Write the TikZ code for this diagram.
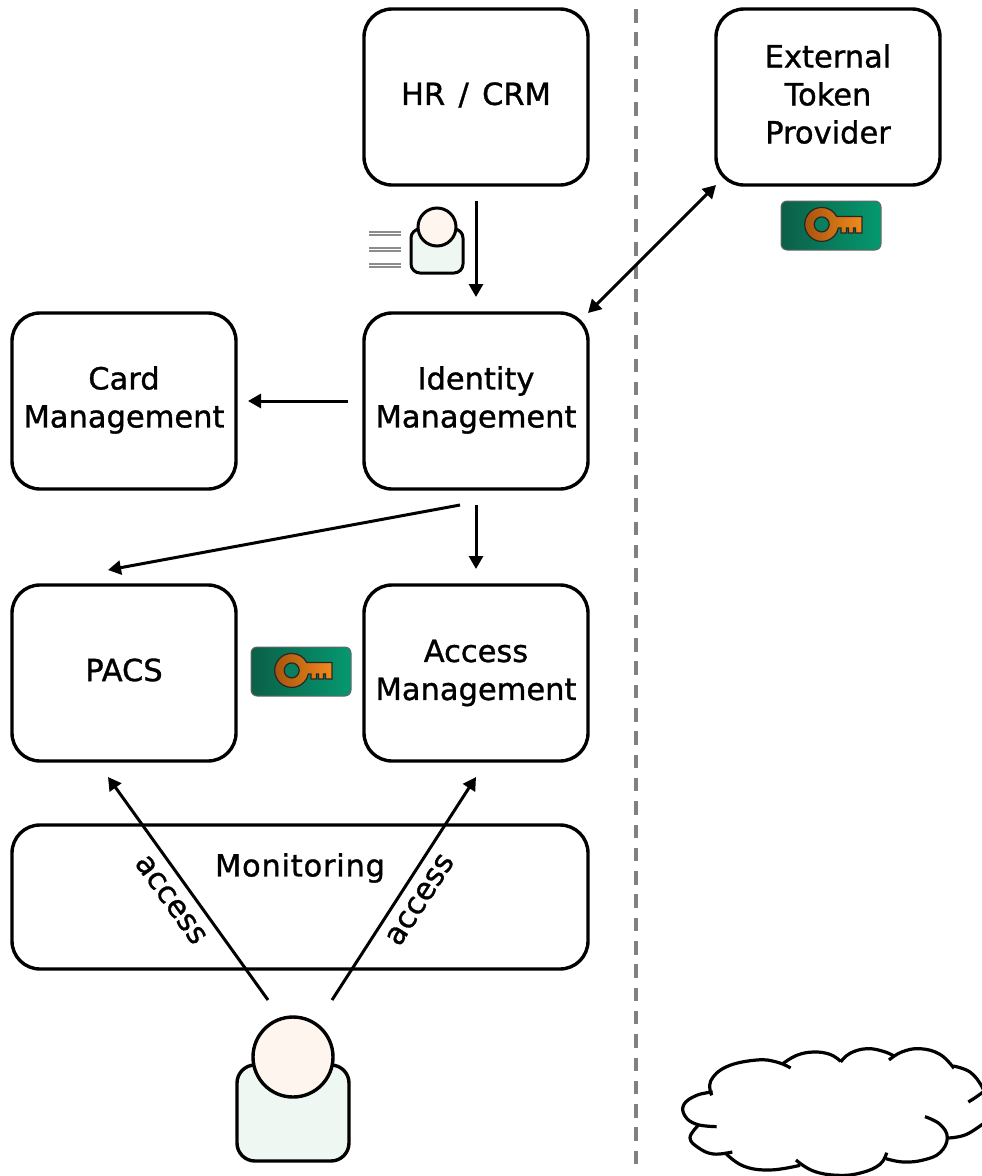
\documentclass[tikz,border=0pt]{standalone}
\usepackage{fontspec}
\setmainfont{DejaVu Sans}[FakeBold=1.1]
\usetikzlibrary{arrows.meta,positioning,calc}
\definecolor{bodyfill}{HTML}{EEF7F2}
\definecolor{headfill}{HTML}{FFF5EF}
\definecolor{badgeL}{HTML}{0B5F48}
\definecolor{badgeR}{HTML}{05996F}
\definecolor{keyL}{HTML}{A8540E}
\definecolor{keyR}{HTML}{F08A1E}
\tikzset{
  x=1pt,y=-1pt,
  sys/.style={draw=black,line width=3.4pt,rounded corners=28pt,fill=white,minimum width=224pt,minimum height=176pt,inner sep=0pt,outer sep=0pt},
  lbl/.style={inner sep=0pt,outer sep=0pt,align=center,font=\fontsize{30.5}{38}\selectfont},
  link/.style={line width=3pt,-{Triangle[length=13pt,width=14pt]}},
  linkboth/.style={line width=3pt,{Triangle[length=13pt,width=14pt]}-{Triangle[length=13pt,width=14pt]}},
}
\newcommand{\keybadge}[2]{%
  \begin{scope}[shift={(#1,#2)}]
    \shade[left color=badgeL,right color=badgeR,draw=black!60,line width=1pt,rounded corners=6pt] (0,0) rectangle (100,49);
    \path[left color=keyL,right color=keyR,draw=black!85,line width=1.2pt]
      (55.75,15.5) .. controls (52.81,9.9) and (47.03,6.4) .. (40.7,6.4)
      .. controls (31.31,6.4) and (23.7,13.99) .. (23.7,23.4)
      .. controls (23.7,32.79) and (31.31,40.4) .. (40.7,40.4)
      .. controls (48.73,40.4) and (55.57,34.9) .. (57.3,27.05)
      -- (60,27) -- (60,32) -- (65.5,32) -- (65.5,27) -- (67.5,27) -- (67.5,32) -- (72.5,32) -- (72.5,27) -- (74.5,27) -- (74.5,32) -- (81,32) -- (81,15.5) -- cycle;
    \fill[badgeL!45!badgeR,draw=black!85,line width=1.2pt] (40.7,23.4) circle[radius=7.5];
  \end{scope}}
\begin{document}
\begin{tikzpicture}
\useasboundingbox (0,0) rectangle (982,1176);
% separator
\draw[draw=black!50,line width=3.5pt,dash pattern=on 13.5pt off 9.8pt] (636,9) -- (636,1168);
% boxes
\node[sys,label={[lbl,yshift=2pt]center:{HR\hspace{.12em} / \hspace{.12em}CRM}}] (hr) at (476,97) {};
\node[sys,label={[lbl,yshift=3pt]center:{External\\Token\\Provider}}] (ext) at (828,97) {};
\node[sys,label={[lbl,yshift=1pt]center:{Identity\\Management}}] (idm) at (476,401) {};
\node[sys,label={[lbl,yshift=1pt]center:{Card\\Management}}] (card) at (124,401) {};
\node[sys,label={[lbl,yshift=3pt]center:{PACS}}] (pacs) at (124,673) {};
\node[sys,label={[lbl,yshift=0pt]center:{Access\\Management}}] (acc) at (476,673) {};
\node[sys,minimum width=576pt,minimum height=144pt] (mon) at (300,897) {};
\node[lbl] (monlabel) at (300,868) {\addfontfeature{LetterSpace=2.5}Monitoring};
% connectors
\draw[link,shorten <=16pt,shorten >=16pt] (hr) -- (idm);
\draw[link,shorten <=16pt,shorten >=12pt] (idm) -- (card);
\draw[link,shorten <=16pt,shorten >=16pt] (idm) -- (acc);
\draw[linkboth] (ext.south west) -- (idm.north east);
\coordinate (idmout) at ([shift={(-16,16)}]idm.south);
\coordinate (pacsin) at ([shift={(-16,-15)}]pacs.north);
\draw[link] (idmout) -- (pacsin);
% user
\draw[line width=3.4pt,fill=bodyfill,rounded corners=18pt] (237,1065) rectangle (349,1161);
\node[circle,draw,line width=3.4pt,fill=headfill,minimum size=80pt,inner sep=0pt,outer sep=0pt] (user) at (293,1057) {};
\coordinate (userL) at ([shift={(-25,-57)}]user.center);
\coordinate (userR) at ([shift={(39,-57)}]user.center);
\coordinate (pacsup) at ([shift={(-16,16)}]pacs.south);
\coordinate (accup) at ([shift={(0,16)}]acc.south);
\draw[link] (userL) -- node[pos=0.503,sloped,below=12pt,lbl] (a1) {access} (pacsup);
\draw[link] (userR) -- node[pos=0.497,sloped,below=11pt,lbl] (a2) {access} (accup);
% small user
\draw[line width=3pt,fill=bodyfill,rounded corners=9pt] (411,229) rectangle (463,273);
\node[circle,draw,line width=3pt,fill=headfill,minimum size=38pt,inner sep=0pt,outer sep=0pt] (smalluser) at (437,227) {};
\foreach \yy in {234,250,266}{
  \draw[black!45,line width=1.2pt] (369,\yy-2) -- (401,\yy-2);
  \draw[black!45,line width=1.2pt] (369,\yy+1) -- (401,\yy+1);
}
% key badges
\keybadge{251}{647}
\keybadge{781}{201}
% cloud
\begin{scope}[shift={(670,1036)},x=0.3333pt,y=-0.3333pt,line width=3.2pt,line cap=butt]
\draw plot[smooth,tension=0.7] coordinates {(125,178) (122,135) (170,92) (260,72) (320,78) (362,96)};
\draw plot[smooth,tension=0.7] coordinates {(340,82) (380,58) (430,48) (480,55) (512,76)};
\draw plot[smooth,tension=0.7] coordinates {(512,78) (540,52) (590,38) (640,46) (672,60)};
\draw plot[smooth,tension=0.7] coordinates {(657,72) (695,48) (750,38) (810,55) (852,97)};
\draw plot[smooth,tension=0.7] coordinates {(850,90) (900,108) (935,150) (945,180)};
\draw plot[smooth,tension=0.7] coordinates {(895,198) (920,182) (950,160)};
\draw plot[smooth,tension=0.7] coordinates {(835,306) (890,295) (950,255)};
\draw plot[smooth,tension=0.7] coordinates {(765,242) (810,265) (832,305) (810,350) (760,372) (700,378) (648,368)};
\draw plot[smooth,tension=0.7] coordinates {(650,350) (630,385) (575,410) (505,418) (430,405) (378,372)};
\draw plot[smooth,tension=0.7] coordinates {(390,388) (300,402) (220,390) (165,350)};
\draw plot[smooth,tension=0.7] coordinates {(187,348) (130,354) (85,335) (60,305) (85,268)};
\draw plot[smooth,tension=0.7] coordinates {(140,272) (80,265) (45,240) (42,205) (80,178) (128,168)};
\end{scope}
\end{tikzpicture}
\end{document}
